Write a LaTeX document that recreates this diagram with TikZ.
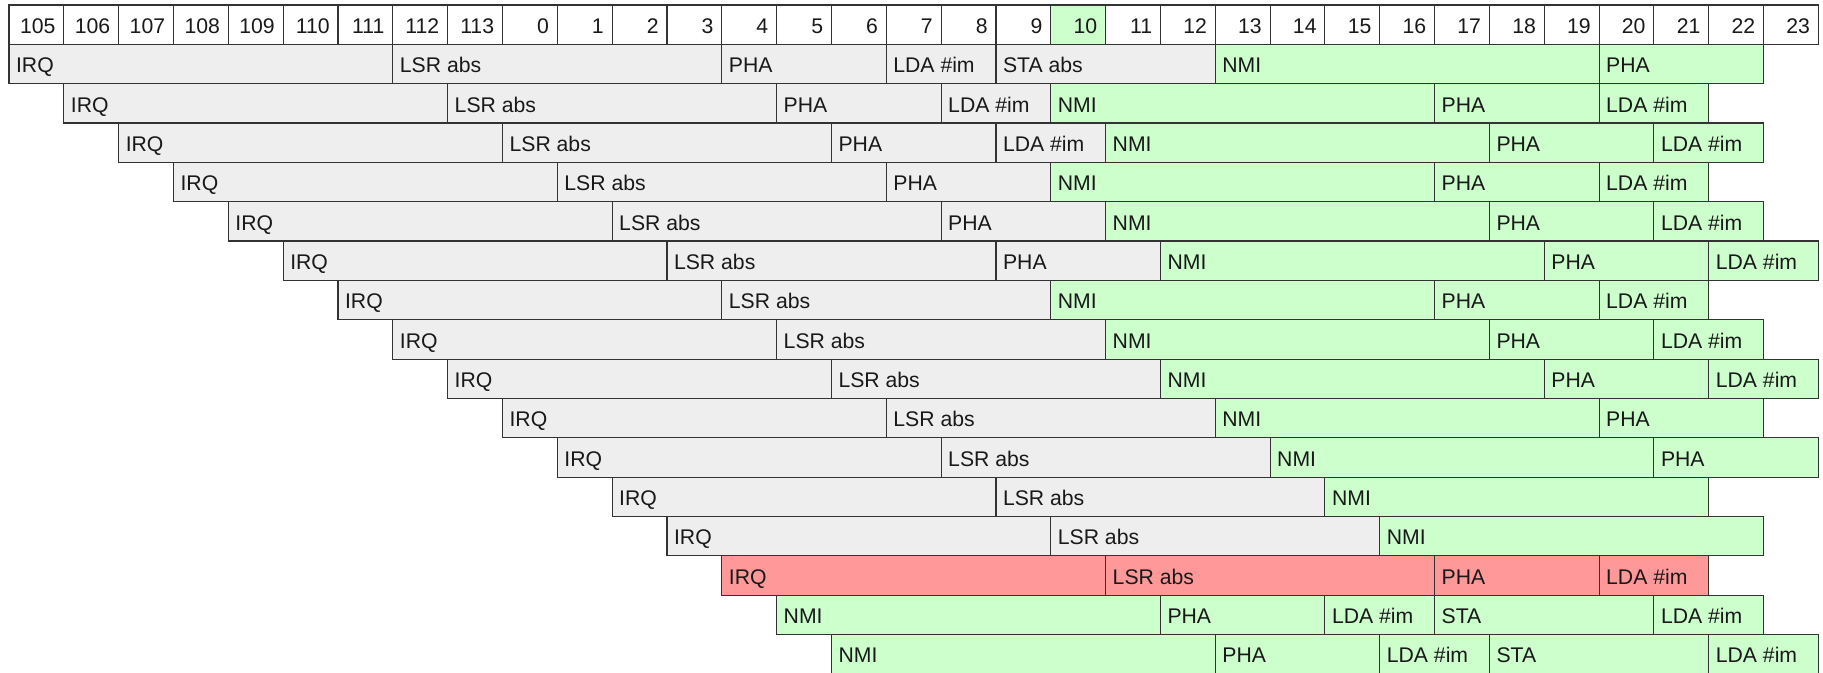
\documentclass[tikz,border=0pt]{standalone}
\usepackage{fontspec}
\setmainfont{Liberation Sans}
\definecolor{gfill}{HTML}{EEEEEE}
\definecolor{nfill}{HTML}{CCFFCC}
\definecolor{rfill}{HTML}{FF9999}
\definecolor{edge}{HTML}{333333}
\tikzset{
  cellbox/.style={draw=edge, line width=0.55pt},
  hdr/.style={cellbox, fill=white},
  grey/.style={cellbox, fill=gfill},
  green/.style={cellbox, fill=nfill},
  red/.style={cellbox, fill=rfill},
  lbl/.style={anchor=base west, inner sep=0pt, font=\fontsize{10.6}{12}\selectfont, text=black!90},
  hlbl/.style={anchor=base east, inner sep=0pt, font=\fontsize{10.6}{12}\selectfont, text=black!90},
}
\newcommand\cx[1]{9+54.83*(#1)}
\newcommand\ry[1]{5+39.34*(#1)}
% #1 row, #2 start col, #3 end col, #4 style, #5 text
\newcommand\slot[5]{%
  \draw[#4] ({\cx{#2}},{\ry{#1}}) rectangle ({\cx{#3}},{\ry{#1+1}});
  \node[lbl] (s-#1-#2) at ({\cx{#2}+6.7},{\ry{#1+1}-11}) {#5};}
\begin{document}
\begin{tikzpicture}[x=0.5pt,y=-0.5pt]
\useasboundingbox (0,0) rectangle (1823,673);
% header
\foreach \t [count=\c from 0] in {105,106,107,108,109,110,111,112,113,0,1,2,3,4,5,6,7,8,9,10,11,12,13,14,15,16,17,18,19,20,21,22,23}{
  \ifnum\c=19 \def\hs{green}\else\def\hs{hdr}\fi
  \draw[\hs] ({\cx{\c}},{\ry{0}}) rectangle ({\cx{\c+1}},{\ry{1}});
  \node[hlbl] (h-\c) at ({\cx{\c+1}-8},{\ry{1}-11}) {\t};
}
% row 1
\slot{1}{0}{7}{grey}{IRQ}
\slot{1}{7}{13}{grey}{LSR abs}
\slot{1}{13}{16}{grey}{PHA}
\slot{1}{16}{18}{grey}{LDA \#im}
\slot{1}{18}{22}{grey}{STA abs}
\slot{1}{22}{29}{green}{NMI}
\slot{1}{29}{32}{green}{PHA}
% row 2
\slot{2}{1}{8}{grey}{IRQ}
\slot{2}{8}{14}{grey}{LSR abs}
\slot{2}{14}{17}{grey}{PHA}
\slot{2}{17}{19}{grey}{LDA \#im}
\slot{2}{19}{26}{green}{NMI}
\slot{2}{26}{29}{green}{PHA}
\slot{2}{29}{31}{green}{LDA \#im}
% row 3
\slot{3}{2}{9}{grey}{IRQ}
\slot{3}{9}{15}{grey}{LSR abs}
\slot{3}{15}{18}{grey}{PHA}
\slot{3}{18}{20}{grey}{LDA \#im}
\slot{3}{20}{27}{green}{NMI}
\slot{3}{27}{30}{green}{PHA}
\slot{3}{30}{32}{green}{LDA \#im}
% row 4
\slot{4}{3}{10}{grey}{IRQ}
\slot{4}{10}{16}{grey}{LSR abs}
\slot{4}{16}{19}{grey}{PHA}
\slot{4}{19}{26}{green}{NMI}
\slot{4}{26}{29}{green}{PHA}
\slot{4}{29}{31}{green}{LDA \#im}
% row 5
\slot{5}{4}{11}{grey}{IRQ}
\slot{5}{11}{17}{grey}{LSR abs}
\slot{5}{17}{20}{grey}{PHA}
\slot{5}{20}{27}{green}{NMI}
\slot{5}{27}{30}{green}{PHA}
\slot{5}{30}{32}{green}{LDA \#im}
% row 6
\slot{6}{5}{12}{grey}{IRQ}
\slot{6}{12}{18}{grey}{LSR abs}
\slot{6}{18}{21}{grey}{PHA}
\slot{6}{21}{28}{green}{NMI}
\slot{6}{28}{31}{green}{PHA}
\slot{6}{31}{33}{green}{LDA \#im}
% row 7
\slot{7}{6}{13}{grey}{IRQ}
\slot{7}{13}{19}{grey}{LSR abs}
\slot{7}{19}{26}{green}{NMI}
\slot{7}{26}{29}{green}{PHA}
\slot{7}{29}{31}{green}{LDA \#im}
% row 8
\slot{8}{7}{14}{grey}{IRQ}
\slot{8}{14}{20}{grey}{LSR abs}
\slot{8}{20}{27}{green}{NMI}
\slot{8}{27}{30}{green}{PHA}
\slot{8}{30}{32}{green}{LDA \#im}
% row 9
\slot{9}{8}{15}{grey}{IRQ}
\slot{9}{15}{21}{grey}{LSR abs}
\slot{9}{21}{28}{green}{NMI}
\slot{9}{28}{31}{green}{PHA}
\slot{9}{31}{33}{green}{LDA \#im}
% row 10
\slot{10}{9}{16}{grey}{IRQ}
\slot{10}{16}{22}{grey}{LSR abs}
\slot{10}{22}{29}{green}{NMI}
\slot{10}{29}{32}{green}{PHA}
% row 11
\slot{11}{10}{17}{grey}{IRQ}
\slot{11}{17}{23}{grey}{LSR abs}
\slot{11}{23}{30}{green}{NMI}
\slot{11}{30}{33}{green}{PHA}
% row 12
\slot{12}{11}{18}{grey}{IRQ}
\slot{12}{18}{24}{grey}{LSR abs}
\slot{12}{24}{31}{green}{NMI}
% row 13
\slot{13}{12}{19}{grey}{IRQ}
\slot{13}{19}{25}{grey}{LSR abs}
\slot{13}{25}{32}{green}{NMI}
% row 14 (red)
\slot{14}{13}{20}{red}{IRQ}
\slot{14}{20}{26}{red}{LSR abs}
\slot{14}{26}{29}{red}{PHA}
\slot{14}{29}{31}{red}{LDA \#im}
% row 15
\slot{15}{14}{21}{green}{NMI}
\slot{15}{21}{24}{green}{PHA}
\slot{15}{24}{26}{green}{LDA \#im}
\slot{15}{26}{30}{green}{STA}
\slot{15}{30}{32}{green}{LDA \#im}
% row 16
\slot{16}{15}{22}{green}{NMI}
\slot{16}{22}{25}{green}{PHA}
\slot{16}{25}{27}{green}{LDA \#im}
\slot{16}{27}{31}{green}{STA}
\slot{16}{31}{33}{green}{LDA \#im}
\end{tikzpicture}
\end{document}
